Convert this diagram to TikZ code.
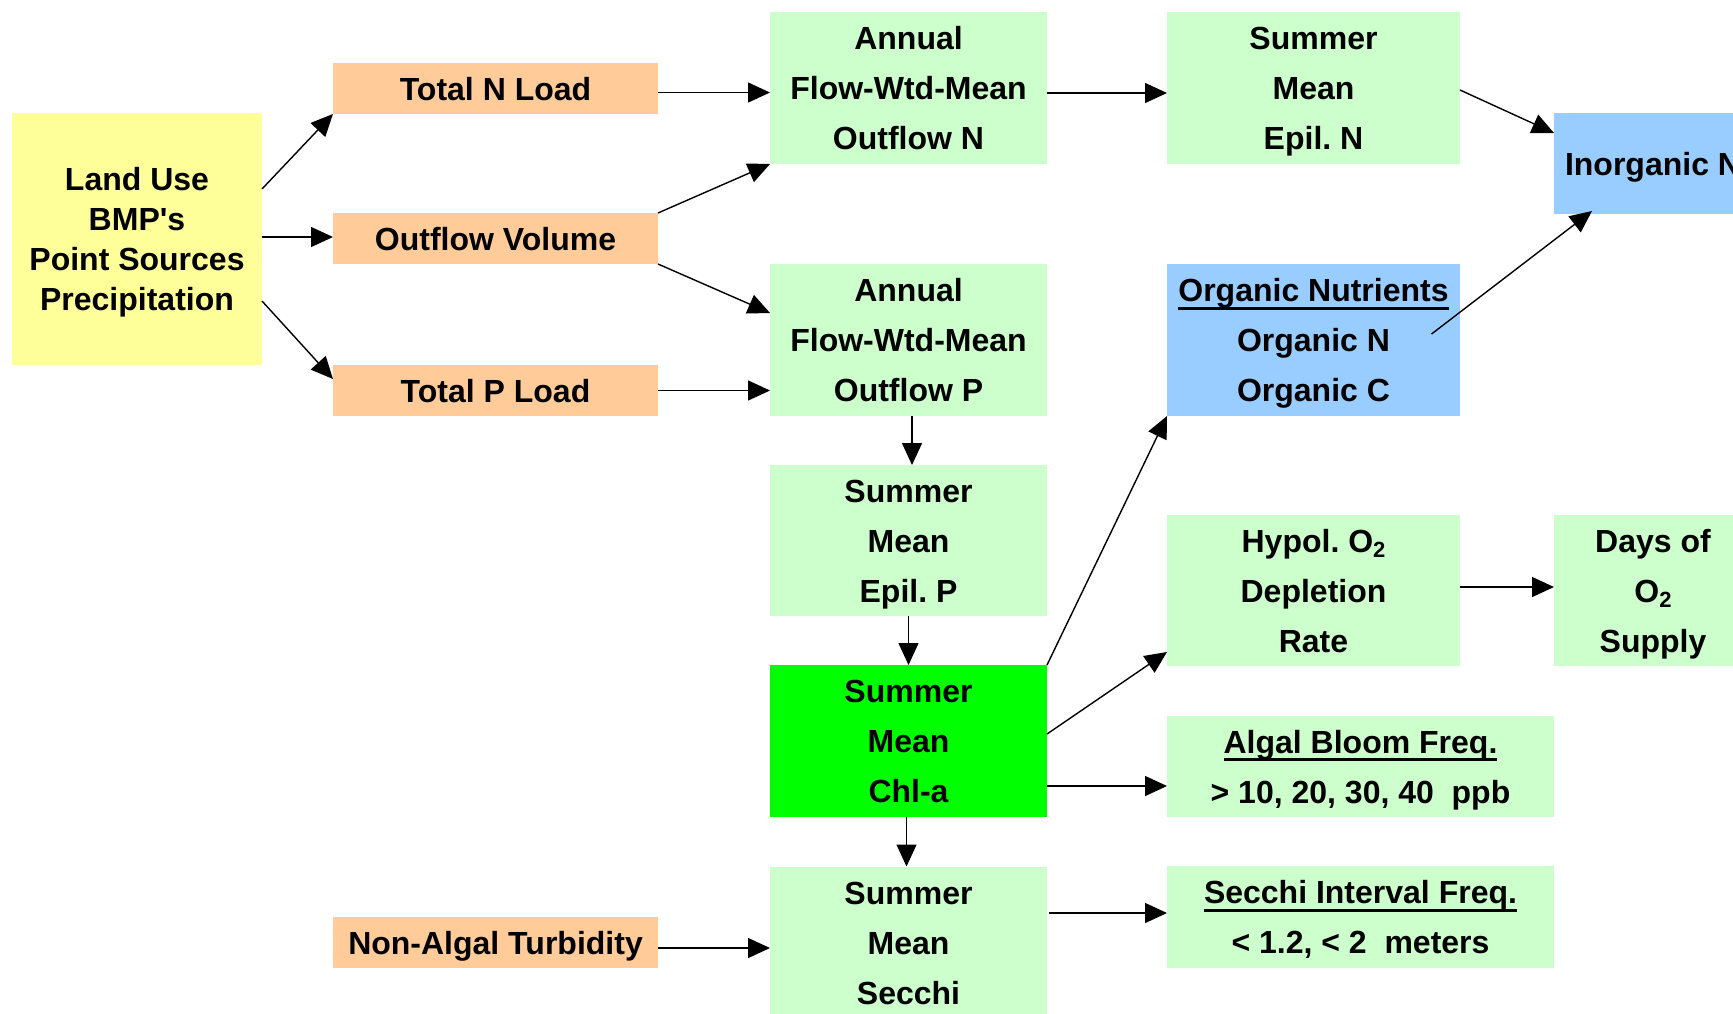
\documentclass[tikz,border=0pt]{standalone}
\usepackage{fontspec}
\setmainfont{Liberation Sans}
\usetikzlibrary{arrows.meta,calc}
\definecolor{cyel}{HTML}{FFFF99}
\definecolor{corg}{HTML}{FFCC99}
\definecolor{cgrn}{HTML}{CCFFCC}
\definecolor{cbgr}{HTML}{00FF00}
\definecolor{cblu}{HTML}{99CCFF}
\newcommand\lst{\rule[-4pt]{0pt}{19.5pt}}
\newsavebox\ulbox
\newcommand\myul[1]{\sbox\ulbox{#1}\rlap{\rule[-4pt]{\wd\ulbox}{1.4pt}}\usebox\ulbox}
\newcommand\sub[1]{\raisebox{-2.5pt}{\fontsize{11}{11}\selectfont #1}}
\frenchspacing
\tikzset{
  box/.style={inner sep=0pt, outer sep=0pt, align=center, font=\fontsize{16}{25}\selectfont\bfseries\frenchspacing},
  sbox/.style={box, minimum width=162.5pt, minimum height=25.5pt, fill=corg},
  tbox/.style={box, minimum width=138.5pt, minimum height=76pt, fill=cgrn},
  rbox/.style={box, minimum width=146.5pt, minimum height=76pt, fill=cgrn},
  wbox/.style={box, minimum width=193.5pt, minimum height=50.5pt, fill=cgrn},
  arr/.style={-{Triangle[length=11pt,width=10pt]}, line width=0.7pt, draw=black}
}
\begin{document}
\begin{tikzpicture}[x=0.5pt,y=-0.5pt]
\useasboundingbox (0,0) rectangle (1733,1013);
\clip (0,0) rectangle (1733,1013);
\fill[white] (0,0) rectangle (1733,1013);
% nodes
\node[box, fill=cyel, minimum width=125pt, minimum height=126pt, font=\fontsize{16}{20}\selectfont\bfseries\frenchspacing] (land) at (137,239)
  {\lst Land Use\\\lst BMP\textquotesingle s\\\lst Point Sources\\\lst Precipitation};
\node[sbox] (tn) at (495.5,88.5) {\lst Total N Load};
\node[sbox] (ov) at (495.5,238.5) {\lst Outflow Volume};
\node[sbox] (tp) at (495.5,390.5) {\lst Total P Load};
\node[sbox] (nat) at (495.5,942.5) {\lst Non-Algal Turbidity};
\node[tbox] (an) at (908.5,88) {\lst Annual\\\lst Flow-Wtd-Mean\\\lst Outflow N};
\node[tbox] (ap) at (908.5,340) {\lst Annual\\\lst Flow-Wtd-Mean\\\lst Outflow P};
\node[tbox, minimum height=75.5pt] (ep) at (908.5,540.5) {\lst Summer\\\lst Mean\\\lst Epil. P};
\node[tbox, fill=cbgr] (chl) at (908.5,741) {\lst Summer\\\lst Mean\\\lst Chl-a};
\node[tbox] (sec) at (908.5,942.5) {\lst Summer\\\lst Mean\\\lst Secchi};
\node[rbox] (epn) at (1313.5,88) {\lst Summer\\\lst Mean\\\lst Epil. N};
\node[rbox, fill=cblu] (org) at (1313.5,340) {\lst\myul{Organic Nutrients}\\\lst Organic N\\\lst Organic C};
\node[rbox, minimum height=75.5pt] (hyp) at (1313.5,590.5) {\lst Hypol. O\sub{2}\\\lst Depletion\\\lst Rate};
\node[wbox] (alg) at (1360.5,766.5) {\lst\myul{Algal Bloom Freq.}\\\lst > 10, 20, 30, 40\ \ ppb};
\node[wbox, minimum height=51pt] (sint) at (1360.5,917) {\lst\myul{Secchi Interval Freq.}\\\lst < 1.2, < 2\ \ meters};
\node[box, fill=cblu, minimum width=99pt, minimum height=50.5pt] (inorg) at (1653,163.5) {\lst Inorganic N};
\node[box, fill=cgrn, minimum width=99pt, minimum height=75.5pt] (days) at (1653,590.5) {\lst Days of\\\lst O\sub{2}\\\lst Supply};
% connectors
\draw[arr] ($(land.east)+(0,-50)$) -- (tn.south west);
\draw[arr] ($(land.east)+(0,-2)$) -- ($(ov.west)+(0,-1.5)$);
\draw[arr] ($(land.east)+(0,62)$) -- ($(tp.north west)+(0,14)$);
\draw[arr] ($(tn.east)+(0,4)$) -- ($(an.west)+(0,4.5)$);
\draw[arr] (ov.north east) -- (an.south west);
\draw[arr] (ov.south east) -- ($(ap.west)+(0,-27)$);
\draw[arr] (tp.east) -- (ap.west |- tp.east);
\draw[arr] ($(an.east)+(0,5)$) -- ($(epn.west)+(0,5)$);
\draw[arr] ($(epn.east)+(0,2)$) -- ($(inorg.north west)+(0,20)$);
\draw[arr] ($(org.center)+(118,-6)$) -- ($(inorg.south west)+(38,-3)$);
\draw[arr] ($(ap.south)+(3.5,0)$) -- ($(ep.north)+(3.5,0)$);
\draw[arr] (ep.south) -- (chl.north);
\draw[arr] ($(chl.south)+(-2,0)$) -- ($(sec.north)+(-2,0)$);
\draw[arr] (chl.north east) -- (org.south west);
\draw[arr] ($(chl.east)+(0,-7)$) -- ($(hyp.south west)+(0,-14)$);
\draw[arr] ($(chl.east)+(0,45)$) -- ($(alg.west)+(0,19.5)$);
\draw[arr] ($(sec.east)+(2,-29.5)$) -- ($(sint.west)+(0,-4)$);
\draw[arr] ($(nat.east)+(0,5.5)$) -- ($(sec.west)+(0,5.5)$);
\draw[arr] ($(hyp.east)+(0,-3.5)$) -- ($(days.west)+(0,-3.5)$);
\end{tikzpicture}
\end{document}
